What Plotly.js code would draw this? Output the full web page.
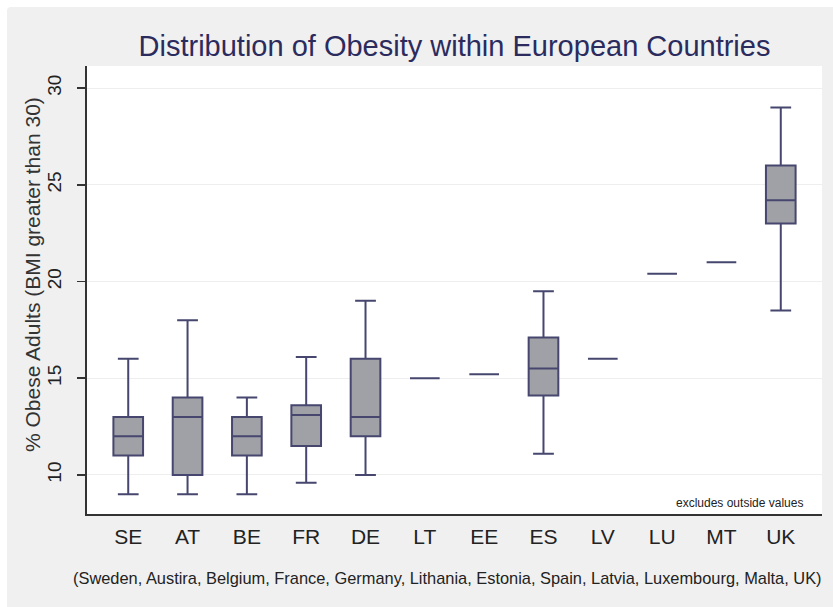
<!DOCTYPE html>
<html>
<head>
<meta charset="utf-8">
<script src="https://cdn.plot.ly/plotly-3.0.1.min.js"></script>
<style>
html,body{margin:0;padding:0;background:#ffffff;width:833px;height:607px;overflow:hidden;}
#chart{position:absolute;left:7px;top:7px;width:826px;height:600px;border-top-left-radius:4px;overflow:hidden;}
</style>
</head>
<body>
<div id="chart"></div>
<script>
// Country codes (x categories)
const countries = ["SE","AT","BE","FR","DE","LT","EE","ES","LV","LU","MT","UK"];
// Box-plot statistics (% obese adults)
const lowerWhisker = [9.0, 9.0, 9.0, 9.6, 10.0, 15.0, 15.2, 11.1, 16.0, 20.4, 21.0, 18.5];
const q1Values     = [11.0, 10.0, 11.0, 11.5, 12.0, 15.0, 15.2, 14.1, 16.0, 20.4, 21.0, 23.0];
const medianValues = [12.0, 13.0, 12.0, 13.1, 13.0, 15.0, 15.2, 15.5, 16.0, 20.4, 21.0, 24.2];
const q3Values     = [13.0, 14.0, 13.0, 13.6, 16.0, 15.0, 15.2, 17.1, 16.0, 20.4, 21.0, 26.0];
const upperWhisker = [16.0, 18.0, 14.0, 16.1, 19.0, 15.0, 15.2, 19.5, 16.0, 20.4, 21.0, 29.0];
// Y-axis ticks
const yTicks = [10, 15, 20, 25, 30];

const trace = {
  type: "box",
  x: countries,
  q1: q1Values,
  median: medianValues,
  q3: q3Values,
  lowerfence: lowerWhisker,
  upperfence: upperWhisker,
  boxpoints: false,
  width: 0.5,
  whiskerwidth: 0.7,
  fillcolor: "#a0a0a7",
  line: {color: "#46466f", width: 2},
  hoverinfo: "skip",
  showlegend: false
};

const layout = {
  width: 826,
  height: 600,
  paper_bgcolor: "#f0f0f0",
  plot_bgcolor: "#ffffff",
  margin: {l: 80, r: 11, t: 59, b: 93, pad: 0},
  title: {
    text: "Distribution of Obesity within European Countries",
    font: {family: "Liberation Sans, Arial, sans-serif", size: 29, color: "#2b2b5e"},
    x: 0.5, xref: "paper", xanchor: "center",
    y: 1 - 38.5/600, yref: "container", yanchor: "middle"
  },
  xaxis: {
    type: "category",
    range: [-0.695, 11.695],
    showgrid: false,
    zeroline: false,
    showline: true,
    linecolor: "#333333",
    linewidth: 2,
    ticks: "",
    tickfont: {family: "Liberation Sans, Arial, sans-serif", size: 21, color: "#222222"},
    ticklabelstandoff: 3,
    fixedrange: true
  },
  yaxis: {
    range: [7.98, 31.14],
    tickvals: yTicks,
    ticktext: yTicks.map(String),
    tickangle: -90,
    ticks: "outside",
    ticklen: 8,
    tickwidth: 1.5,
    tickcolor: "#333333",
    showline: true,
    linecolor: "#333333",
    linewidth: 2,
    showgrid: true,
    gridcolor: "#eeeeee",
    gridwidth: 1,
    zeroline: false,
    tickfont: {family: "Liberation Sans, Arial, sans-serif", size: 19, color: "#222222"},
    ticklabelstandoff: 8,
    fixedrange: true
  },
  annotations: [
    {
      text: "% Obese Adults (BMI greater than 30)",
      xref: "paper", yref: "paper",
      x: (25 - 80) / 735, y: 1 - (268 - 59) / 448,
      xanchor: "center", yanchor: "middle",
      textangle: -90,
      showarrow: false,
      font: {family: "Liberation Sans, Arial, sans-serif", size: 21, color: "#333333"}
    },
    {
      text: "excludes outside values",
      xref: "paper", yref: "paper",
      x: (798 - 80) / 735, y: 1 - (496 - 59) / 448, xanchor: "right", yanchor: "middle",
      showarrow: false,
      font: {family: "Liberation Sans, Arial, sans-serif", size: 12, color: "#222222"}
    },
    {
      text: "(Sweden, Austira, Belgium, France, Germany, Lithania, Estonia, Spain, Latvia, Luxembourg, Malta, UK)",
      xref: "paper", yref: "paper",
      x: (440.5 - 80) / 735, y: -0.143, xanchor: "center", yanchor: "middle",
      showarrow: false,
      font: {family: "Liberation Sans, Arial, sans-serif", size: 16.4, color: "#222222"}
    }
  ]
};

Plotly.newPlot("chart", [trace], layout, {displayModeBar: false, staticPlot: true});
</script>
</body>
</html>
